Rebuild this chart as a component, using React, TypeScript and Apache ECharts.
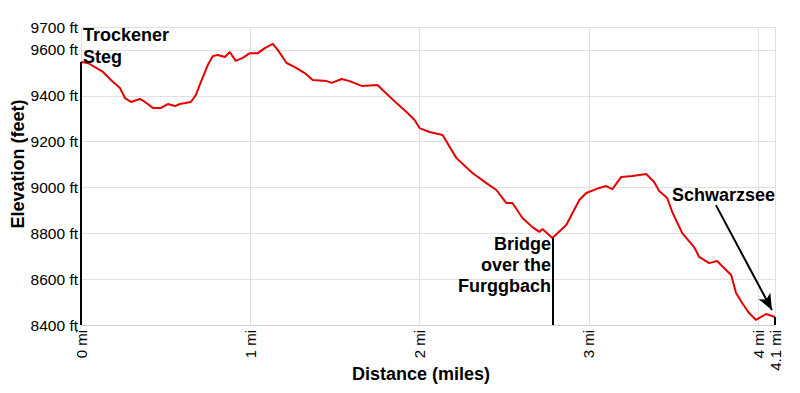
import React, { useEffect, useRef } from "react";
import * as echarts from "echarts";

const distanceMi = [
  0, 0.041, 0.1, 0.13, 0.177, 0.23, 0.26, 0.295, 0.348, 0.378, 0.425, 0.472, 0.513, 0.555, 0.584,
  0.649, 0.678, 0.708, 0.749, 0.779, 0.808, 0.85, 0.879, 0.914, 0.956, 0.997, 1.044, 1.086, 1.133,
  1.162, 1.215, 1.263, 1.322, 1.369, 1.451, 1.481, 1.54, 1.587, 1.658, 1.752, 1.782, 1.864, 1.923,
  1.971, 2.0, 2.059, 2.136, 2.218, 2.313, 2.395, 2.454, 2.513, 2.549, 2.608, 2.667, 2.708, 2.726,
  2.785, 2.867, 2.944, 2.985, 3.062, 3.103, 3.139, 3.192, 3.257, 3.339, 3.386, 3.416, 3.463, 3.493,
  3.552, 3.622, 3.652, 3.711, 3.758, 3.799, 3.841, 3.87, 3.906, 3.947, 3.988, 4.047, 4.1,
];
const elevationFt = [
  9547, 9543, 9517, 9504, 9469, 9434, 9390, 9373, 9386, 9373, 9347, 9347, 9364, 9355, 9364,
  9373, 9403, 9460, 9534, 9573, 9578, 9569, 9591, 9552, 9565, 9586, 9586, 9608, 9626,
  9600, 9543, 9525, 9499, 9469, 9464, 9456, 9473, 9464, 9443, 9447, 9425, 9368, 9329,
  9294, 9259, 9242, 9229, 9128, 9063, 9019, 8989, 8932, 8932, 8867, 8827, 8806, 8819,
  8780, 8836, 8945, 8976, 8998, 9006, 8993, 9046, 9050, 9059, 9024, 8985, 8954, 8893,
  8801, 8740, 8697, 8670, 8679, 8649, 8618, 8540, 8496, 8452, 8422, 8448, 8435,
];

const xMin = 0;
const xMax = 4.1;
const xStep = 1;
const yMin = 8400;
const yMax = 9700;
const yStep = 200;
const xUnit = "mi";
const yUnit = "ft";
const xTitle = "Distance (miles)";
const yTitle = "Elevation (feet)";

// point markers: [distance, elevation]
const trockenerPoint = [0, 9547];
const bridgePoint = [2.785, 8780];
const schwarzseePoint = [4.1, 8435];
const schwarzseeArrowFrom = [3.751, 8923];
const schwarzseeArrowTo = [4.082, 8465];
const trockenerLabel = "Trockener\nSteg";
const bridgeLabel = "Bridge\nover the\nFurggbach";
const schwarzseeLabel = "Schwarzsee";

const FONT = '"Liberation Sans", Arial, sans-serif';

export default function App() {
  const ref = useRef<HTMLDivElement>(null);
  useEffect(() => {
    if (!ref.current) return;
    const chart = echarts.init(ref.current, undefined, { renderer: "svg" });
    const data = distanceMi.map((d, i) => [d, elevationFt[i]]);
    const black = { color: "#000", width: 2, type: "solid" as const };
    const bold = `bold 18px ${FONT}`;
    chart.setOption({
      animation: false,
      backgroundColor: "#fff",
      grid: {
        left: 81,
        top: 27,
        right: 25,
        bottom: 68,
        containLabel: false,
        outerBoundsMode: "none",
      },
      xAxis: {
        type: "value",
        min: xMin,
        max: xMax,
        interval: xStep,
        axisLine: { show: true, lineStyle: { color: "#cfcfcf", width: 1 } },
        axisTick: { show: false },
        axisLabel: {
          rotate: 90,
          margin: 5,
          fontFamily: FONT,
          fontSize: 15,
          color: "#000",
          formatter: (v: number) => `${Math.round(v * 10) / 10} ${xUnit}`,
        },
        splitLine: { show: true, lineStyle: { color: "#e0e0e0", width: 1 } },
      },
      yAxis: {
        type: "value",
        min: yMin,
        max: yMax,
        interval: yStep,
        axisLine: { show: false },
        axisTick: { show: false },
        axisLabel: {
          margin: 3,
          fontFamily: FONT,
          fontSize: 15.5,
          color: "#000",
          formatter: (v: number) => `${v} ${yUnit}`,
        },
        splitLine: { show: true, lineStyle: { color: "#e0e0e0", width: 1 } },
      },
      series: [
        {
          type: "line",
          data,
          showSymbol: false,
          symbol: "none",
          lineStyle: { color: "#e60000", width: 2 },
          z: 3,
          markLine: {
            silent: true,
            animation: false,
            symbol: ["none", "none"],
            label: { show: false },
            lineStyle: black,
            z: 4,
            data: [
              [{ coord: trockenerPoint }, { coord: [trockenerPoint[0], yMin] }],
              [{ coord: bridgePoint }, { coord: [bridgePoint[0], yMin] }],
              [{ coord: schwarzseePoint }, { coord: [schwarzseePoint[0], yMin] }],
              [
                { coord: schwarzseeArrowFrom, symbol: "none" },
                { coord: schwarzseeArrowTo, symbol: "arrow", symbolSize: [10, 16] },
              ],
            ],
          },
        },
      ],
      graphic: [
        {
          type: "text",
          x: 421,
          y: 374,
          z: 10,
          style: {
            text: xTitle,
            font: bold,
            fill: "#000",
            textAlign: "center",
            textVerticalAlign: "middle",
          },
        },
        {
          type: "text",
          x: 18,
          y: 164,
          rotation: Math.PI / 2,
          z: 10,
          style: {
            text: yTitle,
            font: bold,
            fill: "#000",
            textAlign: "center",
            textVerticalAlign: "middle",
          },
        },
        {
          type: "text",
          x: 83,
          y: 24,
          z: 10,
          style: {
            text: trockenerLabel,
            font: bold,
            fill: "#000",
            lineHeight: 22,
            textAlign: "left",
            textVerticalAlign: "top",
          },
        },
        {
          type: "text",
          x: 551,
          y: 233,
          z: 10,
          style: {
            text: bridgeLabel,
            font: bold,
            fill: "#000",
            lineHeight: 21,
            textAlign: "right",
            textVerticalAlign: "top",
          },
        },
        {
          type: "text",
          x: 672,
          y: 185,
          z: 10,
          style: {
            text: schwarzseeLabel,
            font: bold,
            fill: "#000",
            lineHeight: 20,
            textAlign: "left",
            textVerticalAlign: "top",
          },
        },
      ],
    });
    return () => chart.dispose();
  }, []);
  return (
    <div
      ref={ref}
      style={{ position: "fixed", left: 0, top: 0, width: 800, height: 393 }}
    />
  );
}
